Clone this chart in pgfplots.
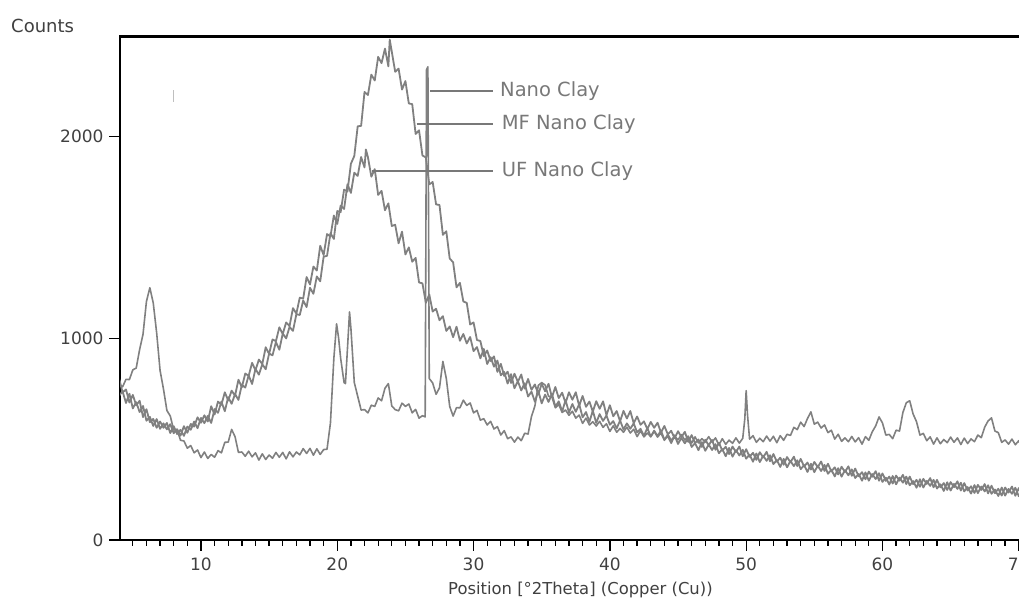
\documentclass[border=0pt]{standalone}
\usepackage{fontspec}
\setmainfont{DejaVu Sans}
\usepackage{pgfplots}
\pgfplotsset{compat=1.18}
\definecolor{curve}{RGB}{128,128,128}
\definecolor{annot}{RGB}{120,120,120}
\definecolor{labtxt}{RGB}{64,64,64}
\begin{document}
\begin{tikzpicture}[x=1pt,y=1pt]
\begin{axis}[
  at={(120pt,64pt)}, anchor=south west,
  scale only axis, width=926pt, height=503.3pt,
  xmin=4.06, xmax=72, ymin=0, ymax=2494,
  tick pos=left,
  xtick={10,20,...,70}, ytick={0,1000,2000},
  minor xtick={4,5,...,72},
  tick align=outside,
  major tick length=11pt, minor tick length=6pt,
  tick style={black, line width=1.3pt},
  axis line style={line width=2.5pt, black},
  ticklabel style={font=\fontsize{17}{20}\selectfont, text=labtxt},
  xticklabel style={yshift=-3pt},
  yticklabel style={xshift=-2pt},
  /pgf/number format/assume math mode=true,
  /pgf/number format/set thousands separator={},
  clip=true
]
% MF Nano Clay
\addplot[curve, line width=1.8pt, mark=none, line join=round] coordinates {
(4,798)(4.25,731)(4.5,746)(4.75,681)(5,719)(5.25,667)(5.5,690)(5.75,609)(6,648)(6.25,584)(6.5,600)(6.75,556)(7,587)(7.25,556)(7.5,580)(7.75,530)(8,564)(8.25,525)(8.5,546)(8.75,516)(9,562)(9.25,546)(9.5,587)(9.75,554)(10,605)(10.25,579)(10.5,615)(10.75,580)(11,649)(11.25,630)(11.5,686)(11.75,638)(12,708)(12.25,675)(12.5,723)(12.75,694)(13,769)(13.25,755)(13.5,816)(13.75,773)(14,848)(14.25,819)(14.5,871)(14.75,846)(15,924)(15.25,915)(15.5,981)(15.75,943)(16,1023)(16.25,999)(16.5,1056)(16.75,1036)(17,1119)(17.25,1115)(17.5,1187)(17.75,1154)(18,1250)(18.25,1220)(18.5,1306)(18.75,1282)(19,1404)(19.25,1408)(19.5,1520)(19.75,1492)(20,1630)(20.25,1625)(20.5,1736)(20.75,1727)(21,1864)(21.25,1903)(21.5,2050)(21.75,2052)(22,2220)(22.25,2205)(22.5,2306)(22.75,2277)(23,2394)(23.25,2363)(23.5,2435)(23.75,2347)(23.85,2480)(24,2420)(24.25,2320)(24.5,2336)(24.75,2232)(25,2274)(25.25,2163)(25.5,2160)(25.75,2012)(26,2030)(26.25,1905)(26.5,1896)(26.75,1762)(27,1774)(27.25,1663)(27.5,1660)(27.75,1512)(28,1530)(28.25,1395)(28.5,1376)(28.75,1252)(29,1274)(29.25,1182)(29.5,1175)(29.75,1068)(30,1078)(30.25,991)(30.5,986)(30.75,911)(31,939)(31.25,887)(31.5,910)(31.75,833)(32,873)(32.25,813)(32.5,834)(32.75,778)(33,824)(33.25,784)(33.5,820)(33.75,750)(34,798)(34.25,744)(34.5,771)(34.75,721)(35,774)(35.25,737)(35.5,774)(35.75,707)(36,758)(36.25,703)(36.5,730)(36.75,679)(37,732)(37.25,695)(37.5,732)(37.75,665)(38,714)(38.25,660)(38.5,686)(38.75,636)(39,688)(39.25,650)(39.5,687)(39.75,619)(40,668)(40.25,613)(40.5,639)(40.75,588)(41,640)(41.25,602)(41.5,639)(41.75,579)(42,612)(42.25,571)(42.5,588)(42.75,550)(43,585)(43.25,556)(43.5,581)(43.75,532)(44,565)(44.25,524)(44.5,541)(44.75,504)(45,539)(45.25,510)(45.5,536)(45.75,486)(46,520)(46.25,480)(46.5,498)(46.75,461)(47,497)(47.25,469)(47.5,496)(47.75,447)(48,482)(48.25,443)(48.5,462)(48.75,426)(49,463)(49.25,436)(49.5,463)(49.75,415)(50,450)(50.25,412)(50.5,432)(50.75,397)(51,435)(51.25,409)(51.5,437)(51.75,390)(52,426)(52.25,388)(52.5,408)(52.75,373)(53,411)(53.25,385)(53.5,413)(53.75,366)(54,402)(54.25,364)(54.5,384)(54.75,349)(55,387)(55.25,361)(55.5,389)(55.75,342)(56,378)(56.25,340)(56.5,360)(56.75,325)(57,363)(57.25,337)(57.5,365)(57.75,318)(58,354)(58.25,316)(58.5,336)(58.75,301)(59,339)(59.25,313)(59.5,341)(59.75,294)(60,330)(60.25,293)(60.5,314)(60.75,280)(61,319)(61.25,294)(61.5,323)(61.75,277)(62,314)(62.25,277)(62.5,298)(62.75,264)(63,303)(63.25,278)(63.5,307)(63.75,261)(64,298)(64.25,261)(64.5,282)(64.75,248)(65,287)(65.25,262)(65.5,291)(65.75,245)(66,282)(66.25,245)(66.5,266)(66.75,233)(67,273)(67.25,248)(67.5,277)(67.75,231)(68,269)(68.25,232)(68.5,254)(68.75,220)(69,260)(69.25,235)(69.5,265)(69.75,219)(70,257)(70.25,220)(70.5,242)
};
% UF Nano Clay
\addplot[curve, line width=1.8pt, mark=none, line join=round] coordinates {
(4,716)(4.25,736)(4.5,679)(4.75,725)(5,652)(5.25,683)(5.5,634)(5.75,664)(6,591)(6.25,610)(6.5,565)(6.75,599)(7,551)(7.25,578)(7.5,548)(7.75,574)(8,529)(8.25,549)(8.5,517)(8.75,564)(9,531)(9.25,575)(9.5,562)(9.75,608)(10,581)(10.25,618)(10.5,587)(10.75,663)(11,622)(11.25,686)(11.5,670)(11.75,732)(12,691)(12.25,740)(12.5,715)(12.75,794)(13,757)(13.25,825)(13.5,813)(13.75,878)(14,841)(14.25,894)(14.5,872)(14.75,955)(15,922)(15.25,994)(15.5,985)(15.75,1054)(16,1021)(16.25,1078)(16.5,1060)(16.75,1149)(17,1122)(17.25,1201)(17.5,1196)(17.75,1303)(18,1266)(18.25,1355)(18.5,1335)(18.75,1458)(19,1412)(19.25,1516)(19.5,1504)(19.75,1608)(20,1566)(20.25,1657)(20.5,1640)(20.75,1763)(21,1720)(21.25,1820)(21.5,1804)(21.75,1898)(22,1846)(22.1,1935)(22.25,1897)(22.5,1800)(22.75,1838)(23,1710)(23.25,1730)(23.5,1634)(23.75,1668)(24,1556)(24.25,1562)(24.5,1470)(24.75,1528)(25,1415)(25.25,1450)(25.5,1379)(25.75,1398)(26,1276)(26.25,1272)(26.5,1175)(26.75,1217)(27,1132)(27.25,1146)(27.5,1089)(27.75,1109)(28,1036)(28.25,1058)(28.5,1005)(28.75,1057)(29,987)(29.25,1021)(29.5,974)(29.75,1006)(30,936)(30.25,956)(30.5,900)(30.75,947)(31,872)(31.25,906)(31.5,859)(31.75,889)(32,816)(32.25,833)(32.5,775)(32.75,822)(33,752)(33.25,787)(33.5,741)(33.75,777)(34,711)(34.25,735)(34.5,685)(34.75,739)(35,677)(35.25,721)(35.5,684)(35.75,724)(36,661)(36.25,687)(36.5,637)(36.75,693)(37,632)(37.25,674)(37.5,635)(37.75,673)(38,608)(38.25,634)(38.5,585)(38.75,641)(39,580)(39.25,624)(39.5,590)(39.75,617)(40,571)(40.25,589)(40.5,553)(40.75,592)(41,548)(41.25,578)(41.5,551)(41.75,578)(42,533)(42.25,551)(42.5,516)(42.75,555)(43,512)(43.25,542)(43.5,515)(43.75,542)(44,497)(44.25,515)(44.5,480)(44.75,519)(45,476)(45.25,506)(45.5,479)(45.75,506)(46,461)(46.25,480)(46.5,445)(46.75,485)(47,442)(47.25,473)(47.5,446)(47.75,475)(48,430)(48.25,450)(48.5,415)(48.75,456)(49,413)(49.25,445)(49.5,419)(49.75,447)(50,403)(50.25,423)(50.5,388)(50.75,429)(51,386)(51.25,418)(51.5,392)(51.75,420)(52,376)(52.25,396)(52.5,362)(52.75,402)(53,360)(53.25,392)(53.5,366)(53.75,395)(54,351)(54.25,371)(54.5,337)(54.75,378)(55,336)(55.25,368)(55.5,342)(55.75,372)(56,328)(56.25,348)(56.5,315)(56.75,356)(57,314)(57.25,346)(57.5,321)(57.75,350)(58,307)(58.25,327)(58.5,294)(58.75,335)(59,294)(59.25,327)(59.5,302)(59.75,331)(60,288)(60.25,309)(60.5,275)(60.75,317)(61,276)(61.25,309)(61.5,284)(61.75,314)(62,271)(62.25,292)(62.5,259)(62.75,301)(63,260)(63.25,293)(63.5,268)(63.75,298)(64,255)(64.25,276)(64.5,243)(64.75,286)(65,245)(65.25,278)(65.5,253)(65.75,284)(66,241)(66.25,262)(66.5,230)(66.75,272)(67,232)(67.25,265)(67.5,241)(67.75,271)(68,229)(68.25,250)(68.5,218)(68.75,260)(69,220)(69.25,253)(69.5,229)(69.75,259)(70,217)(70.25,239)(70.5,206)
};
% Nano Clay
\addplot[curve, line width=1.6pt, mark=none, line join=round] coordinates {
(4,772)(4.25,759)(4.5,796)(4.75,795)(5,843)(5.25,852)(5.5,944)(5.75,1020)(6,1182)(6.25,1250)(6.5,1174)(6.75,1026)(7,840)(7.25,748)(7.5,642)(7.75,614)(8,545)(8.25,547)(8.5,494)(8.75,491)(9,455)(9.25,468)(9.5,432)(9.75,446)(10,408)(10.25,436)(10.5,404)(10.75,424)(11,410)(11.25,443)(11.5,432)(11.75,484)(12,485)(12.25,548)(12.5,512)(12.75,434)(13,436)(13.25,415)(13.5,440)(13.75,412)(14,432)(14.25,396)(14.5,427)(14.75,399)(15,421)(15.25,405)(15.5,434)(15.75,410)(16,434)(16.25,402)(16.5,437)(16.75,412)(17,436)(17.25,422)(17.5,453)(17.75,429)(18,454)(18.25,420)(18.5,452)(18.75,424)(19,448)(19.25,450)(19.5,580)(19.75,900)(19.95,1071)(20.1,1000)(20.25,900)(20.5,780)(20.6,775)(20.75,950)(20.9,1130)(21,1050)(21.25,780)(21.5,712)(21.75,644)(22,646)(22.25,630)(22.5,668)(22.75,662)(23,704)(23.25,690)(23.5,752)(23.75,775)(24,664)(24.25,646)(24.5,640)(24.75,678)(25,662)(25.25,674)(25.5,630)(25.75,647)(26,604)(26.25,616)(26.45,610)(26.55,2330)(26.65,2345)(26.75,800)(27,778)(27.25,722)(27.5,754)(27.75,885)(28,800)(28.25,662)(28.5,614)(28.75,656)(29,655)(29.25,693)(29.5,667)(29.75,679)(30,630)(30.25,642)(30.5,594)(30.75,601)(31,570)(31.25,588)(31.5,550)(31.75,562)(32,520)(32.25,542)(32.5,502)(32.75,511)(33,485)(33.25,510)(33.5,492)(33.75,529)(34,525)(34.25,612)(34.5,664)(34.75,766)(35,780)(35.25,768)(35.5,712)(35.75,709)(36,655)(36.25,672)(36.5,632)(36.75,644)(37,618)(37.25,638)(37.5,604)(37.75,619)(38,578)(38.25,604)(38.5,570)(38.75,586)(39,565)(39.25,588)(39.5,558)(39.75,576)(40,538)(40.25,566)(40.5,534)(40.75,553)(41,534)(41.25,559)(41.5,530)(41.75,549)(42,512)(42.25,541)(42.5,511)(42.75,530)(43,512)(43.25,538)(43.5,510)(43.75,530)(44,494)(44.25,524)(44.5,494)(44.75,514)(45,496)(45.25,522)(45.5,495)(45.75,515)(46,480)(46.25,511)(46.5,481)(46.75,502)(47,485)(47.25,512)(47.5,485)(47.75,506)(48,471)(48.25,502)(48.5,474)(48.75,495)(49,479)(49.25,506)(49.5,480)(49.75,504)(49.9,600)(50,740)(50.1,620)(50.25,500)(50.5,517)(50.75,484)(51,504)(51.25,487)(51.5,515)(51.75,490)(52,514)(52.25,482)(52.5,517)(52.75,494)(53,524)(53.25,518)(53.5,558)(53.75,547)(54,584)(54.25,562)(54.5,602)(54.75,635)(55,574)(55.25,584)(55.5,555)(55.75,570)(56,532)(56.25,544)(56.5,500)(56.75,524)(57,489)(57.25,506)(57.5,487)(57.75,513)(58,486)(58.25,507)(58.5,475)(58.75,512)(59,494)(59.25,536)(59.5,565)(59.75,610)(60,580)(60.25,520)(60.5,523)(60.75,502)(61,544)(61.25,540)(61.5,632)(61.75,680)(62,690)(62.25,624)(62.5,586)(62.75,520)(63,528)(63.25,492)(63.5,511)(63.75,475)(64,506)(64.25,477)(64.5,498)(64.75,482)(65,510)(65.25,484)(65.5,506)(65.75,473)(66,505)(66.25,478)(66.5,501)(66.75,487)(67,520)(67.25,507)(67.5,559)(67.75,590)(68,605)(68.25,540)(68.5,532)(68.75,484)(69,496)(69.25,475)(69.5,500)(69.75,472)(70,492)(70.25,457)(70.5,488)
};
\end{axis}
% annotations
\draw[annot, line width=1.6pt] (430pt,513pt) -- (493pt,513pt);
\draw[annot, line width=1.6pt] (416.7pt,480pt) -- (493pt,480pt);
\draw[annot, line width=1.6pt] (371.7pt,433pt) -- (493pt,433pt);
\node[anchor=base west, inner sep=0pt, text=annot, font=\fontsize{19.5}{22}\selectfont] at (500pt,507.3pt) {Nano Clay};
\node[anchor=base west, inner sep=0pt, text=annot, font=\fontsize{19.5}{22}\selectfont] at (501.7pt,474pt) {MF Nano Clay};
\node[anchor=base west, inner sep=0pt, text=annot, font=\fontsize{19.5}{22}\selectfont] at (501.7pt,427.3pt) {UF Nano Clay};
\draw[black!25, line width=1pt] (173pt,502pt) -- (173pt,514pt);
\node[anchor=base west, inner sep=0pt, text=labtxt, font=\fontsize{18}{21}\selectfont] at (11pt,571.7pt) {Counts};
\node[anchor=base west, inner sep=0pt, text=labtxt, font=\fontsize{16.4}{19}\selectfont] at (448pt,9pt) {Position [°2Theta] (Copper (Cu))};
\pgfresetboundingbox
\path[use as bounding box] (0,0) rectangle (1019pt,604pt);
\end{tikzpicture}
\end{document}
